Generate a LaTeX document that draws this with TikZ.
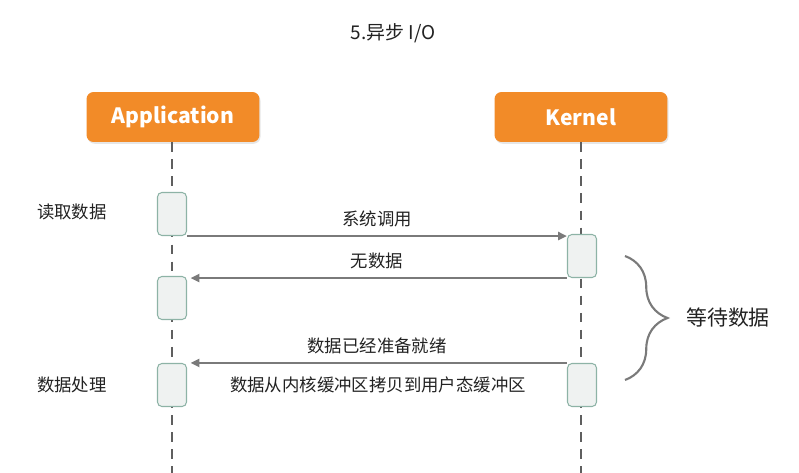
\documentclass[tikz,border=0pt]{standalone}
\usepackage{fontspec}
\setmainfont{Noto Sans CJK SC}
\usepackage{tikz}
\usetikzlibrary{arrows.meta,positioning,decorations.pathreplacing,shadows}
\definecolor{actorange}{RGB}{242,139,40}
\definecolor{actfill}{RGB}{239,242,241}
\definecolor{actline}{RGB}{141,179,166}
\definecolor{msggray}{RGB}{122,122,122}
\definecolor{lifegray}{RGB}{95,95,95}
\definecolor{txt}{RGB}{34,34,34}

\begin{document}
\begin{tikzpicture}[x=0.02cm,y=-0.02cm,
  actor/.style={fill=actorange,rounded corners=4pt,minimum width=3.46cm,minimum height=1cm,
    text=white,font=\fontsize{12}{14}\selectfont\bfseries,
    drop shadow={opacity=0.2,shadow xshift=0.6pt,shadow yshift=-1pt}},
  act/.style={draw=actline,fill=actfill,rounded corners=2.5pt,line width=0.6pt,
    minimum width=0.58cm,minimum height=0.86cm,inner sep=0pt},
  life/.style={draw=lifegray,line width=1.3pt,dash pattern=on 5.5pt off 4.2pt},
  msg/.style={draw=msggray,line width=1.3pt,-{Triangle[length=5pt,width=4.5pt]}},
  lbl/.style={text=txt,font=\fontsize{9.9}{12}\selectfont}]
  \useasboundingbox (0,0) rectangle (799,473);
  \node[text=txt,font=\fontsize{10.8}{13}\selectfont] (title) at (393,33) {5.异步 I/O};
  % participants
  \node[actor] (app)  at (173,117) {Application};
  \node[actor] (kern) at (581,117) {Kernel};
  \coordinate (append)  at (172,473);
  \coordinate (kernend) at (581,473);
  \draw[life] (app.south -| append) -- (append);
  \draw[life] (kern.south) -- (kernend);
  % activation boxes
  \node[act] (a1) at (172,214) {};
  \node[act] (a2) at (172,298) {};
  \node[act] (a3) at (172,385) {};
  \node[act] (k1) at (582,256) {};
  \node[act] (k2) at (582,385) {};
  % messages
  \draw[msg] (a1.south east) -- (a1.south east -| k1.west)
    node[lbl,midway,above=1pt] (m1) {系统调用};
  \draw[msg,shorten >=2pt] (k1.south west) -- (k1.south west -| a2.east)
    node[lbl,midway,above=1pt] (m2) {无数据};
  \draw[msg,shorten >=2pt] (k2.north west) -- (k2.north west -| a3.east)
    node[lbl,midway,above=1pt] (m3) {数据已经准备就绪};
  \node[lbl] (m4) at (378,385) {数据从内核缓冲区拷贝到用户态缓冲区};
  % left side notes
  \node[lbl] (read) at (72,212) {读取数据};
  \node[lbl] (proc) at (72,385) {数据处理};
  % waiting brace
  \coordinate (wtop) at (625,256);
  \coordinate (wbot) at (625,380);
  \draw[msggray,line width=1.2pt,decorate,decoration={brace,amplitude=0.85cm}]
    (wtop) -- (wbot);
  \node[text=txt,font=\fontsize{11.9}{14}\selectfont,anchor=west] (wait) at (680,318) {等待数据};
\end{tikzpicture}
\end{document}
